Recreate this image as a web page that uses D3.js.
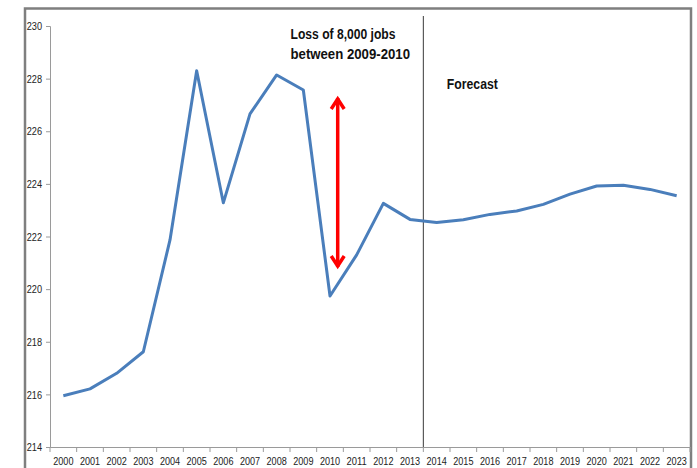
<!DOCTYPE html>
<html>
<head>
<meta charset="utf-8">
<script src="https://cdn.jsdelivr.net/npm/d3@7"></script>
<style>
  html, body { margin: 0; padding: 0; background: #fff; }
  svg { display: block; }
  .tick text, .lbl { font-family: "Liberation Sans", Arial, sans-serif; }
</style>
</head>
<body>
<svg id="chart" width="697" height="468"></svg>
<script>
// Employment (thousands), actual 2000-2013 and forecast 2014-2023
const years = ["2000","2001","2002","2003","2004","2005","2006","2007","2008","2009","2010","2011",
               "2012","2013","2014","2015","2016","2017","2018","2019","2020","2021","2022","2023"];
const jobs = [215.95, 216.21, 216.8, 217.62, 221.87, 228.3, 223.28, 226.66, 228.14, 227.57, 219.74, 221.3,
              223.26, 222.65, 222.53, 222.64, 222.84, 222.97, 223.22, 223.61, 223.92, 223.95, 223.79, 223.55];
const yTicks = [214, 216, 218, 220, 222, 224, 226, 228, 230];
const forecastStart = "2014";
const noteLines = ["Loss of 8,000 jobs", "between 2009-2010"];
const forecastLabel = "Forecast";
// Span of the job-loss arrow (in thousands) at 2010
const lossArrow = [227.3, 220.8];

const svg = d3.select("#chart");

// Narrow face: squeeze glyphs to a per-character width
const squeeze = (sel, perChar) =>
  sel.attr("textLength", function () { return this.textContent.length * perChar; })
     .attr("lengthAdjust", "spacingAndGlyphs");

// Outer chart frame
svg.append("rect")
  .attr("x", 25).attr("y", 8.5)
  .attr("width", 666).attr("height", 480)
  .attr("fill", "none")
  .attr("stroke", "#7f7f7f")
  .attr("stroke-width", 2.5);

const x = d3.scaleBand().domain(years).range([50, 690]).padding(0);
const y = d3.scaleLinear().domain([214, 230]).range([447, 26]);
const cx = d => x(d) + x.bandwidth() / 2;

// Y axis
const yAxis = svg.append("g")
  .attr("transform", "translate(50,0)")
  .call(d3.axisLeft(y).tickValues(yTicks).tickSize(4).tickPadding(4).tickFormat(d3.format("d")));
yAxis.select(".domain").attr("stroke", "#9a9a9a");
yAxis.selectAll(".tick line").attr("stroke", "#9a9a9a");
yAxis.selectAll(".tick text").attr("font-size", 11.5).attr("fill", "#222").call(squeeze, 5.1);

// X axis (labels centred in each category)
const xAxis = svg.append("g")
  .attr("transform", "translate(0,447)")
  .call(d3.axisBottom(x).tickSize(0).tickPadding(10.5));
xAxis.select(".domain").attr("stroke", "#9a9a9a");
xAxis.selectAll(".tick text").attr("font-size", 10.5).attr("fill", "#222").call(squeeze, 5.05);

// Category boundary ticks
const bounds = years.map(d => x(d)).concat([x(years[years.length - 1]) + x.bandwidth()]);
svg.append("g").selectAll("line").data(bounds).join("line")
  .attr("x1", d => d).attr("x2", d => d)
  .attr("y1", 447).attr("y2", 452)
  .attr("stroke", "#9a9a9a");

// Divider between actual and forecast years
svg.append("line")
  .attr("x1", x(forecastStart)).attr("x2", x(forecastStart))
  .attr("y1", 16).attr("y2", 447)
  .attr("stroke", "#3a3a3a").attr("stroke-width", 1);

// Jobs line
const line = d3.line().x((d, i) => cx(years[i])).y(d => y(d));
svg.append("path")
  .datum(jobs)
  .attr("d", line)
  .attr("fill", "none")
  .attr("stroke", "#4A7EBB")
  .attr("stroke-width", 3)
  .attr("stroke-linejoin", "round");

// Double-headed arrow marking the 2009-2010 loss
const ax = cx("2010") + 7.7;
const aTop = y(lossArrow[0]), aBot = y(lossArrow[1]);
const arrow = svg.append("g").attr("stroke", "#FF0000").attr("fill", "none")
  .attr("stroke-width", 3.5).attr("stroke-linecap", "butt");
arrow.append("line").attr("x1", ax).attr("x2", ax).attr("y1", aTop + 1).attr("y2", aBot - 1);
arrow.append("polyline")
  .attr("points", [[ax - 6.5, aTop + 12], [ax, aTop + 2], [ax + 6.5, aTop + 12]].join(" "))
  .attr("stroke-linejoin", "miter");
arrow.append("polyline")
  .attr("points", [[ax - 6.5, aBot - 12], [ax, aBot - 2], [ax + 6.5, aBot - 12]].join(" "))
  .attr("stroke-linejoin", "miter");

// Annotation text
const noteWidths = [105, 119.5];
noteLines.forEach((t, i) => {
  svg.append("text").attr("class", "lbl")
    .attr("x", 290.5).attr("y", 39 + i * 20)
    .attr("font-size", 14).attr("font-weight", "bold").attr("fill", "#111")
    .attr("textLength", noteWidths[i]).attr("lengthAdjust", "spacingAndGlyphs")
    .text(t);
});

svg.append("text").attr("class", "lbl")
  .attr("x", x(forecastStart) + 23.5).attr("y", 89)
  .attr("font-size", 14).attr("font-weight", "bold").attr("fill", "#111")
  .attr("textLength", 51).attr("lengthAdjust", "spacingAndGlyphs")
  .text(forecastLabel);
</script>
</body>
</html>
